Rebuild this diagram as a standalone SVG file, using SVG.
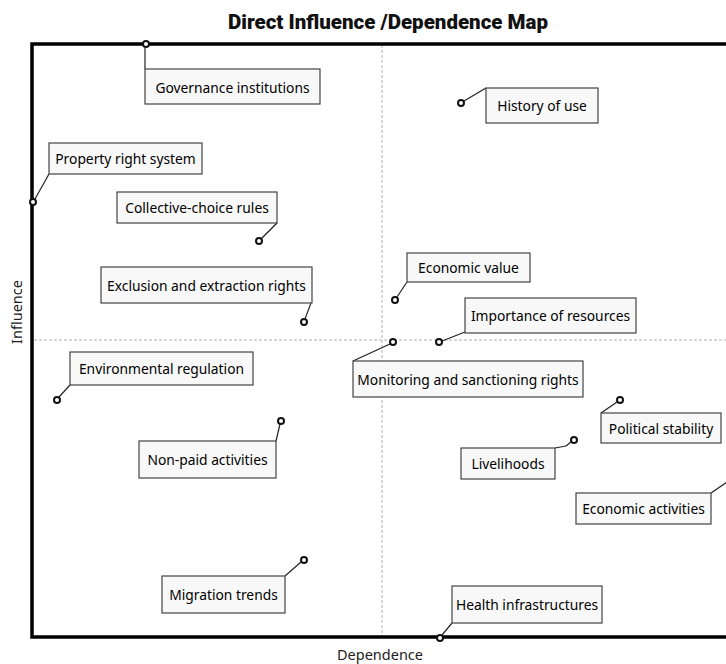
<svg xmlns="http://www.w3.org/2000/svg" width="726" height="664" viewBox="0 0 726 664">
<style>
.box{fill:#f8f8f8;stroke:#444;stroke-width:1.2}
.lbl{font-family:"Noto Sans","Liberation Sans",sans-serif;font-size:13.8px;fill:#000;text-anchor:middle;dominant-baseline:central}
.dot{fill:#fff;stroke:#111;stroke-width:2}
.con{stroke:#222;stroke-width:1.2;fill:none}
.axis{font-family:"Noto Sans","Liberation Sans",sans-serif;font-size:14.5px;fill:#222}
.grid{stroke:#b0b0b0;stroke-width:1;stroke-dasharray:3,2;fill:none}
</style>
<rect width="726" height="664" fill="#fff"/>
<text x="388" y="29" text-anchor="middle" font-family="Roboto,'Liberation Sans',sans-serif" font-weight="900" font-size="20.5" fill="#111">Direct Influence /Dependence Map</text>
<g id="frame">
<line class="grid" x1="382" y1="45" x2="382" y2="636"/>
<line class="grid" x1="34" y1="340" x2="726" y2="340"/>
<path d="M730,44 H32 V637 H730" fill="none" stroke="#000" stroke-width="3.5"/>
</g>
<text class="axis" x="380" y="660" text-anchor="middle">Dependence</text>
<text class="axis" transform="translate(22,312) rotate(-90)" text-anchor="middle">Influence</text>
<g id="connectors">
<line class="con" x1="145" y1="48" x2="145" y2="69"/>
<line class="con" x1="49" y1="174" x2="35" y2="199"/>
<line class="con" x1="277" y1="223" x2="261" y2="239"/>
<line class="con" x1="311" y1="303" x2="305" y2="319"/>
<line class="con" x1="486" y1="88" x2="464" y2="101"/>
<line class="con" x1="407" y1="282" x2="397" y2="297"/>
<line class="con" x1="465" y1="332" x2="442" y2="341"/>
<line class="con" x1="353" y1="361" x2="390" y2="344"/>
<line class="con" x1="70" y1="385" x2="59" y2="397"/>
<line class="con" x1="276" y1="441" x2="280" y2="424"/>
<line class="con" x1="285" y1="576" x2="301" y2="562"/>
<line class="con" x1="601" y1="413" x2="617" y2="402"/>
<line class="con" x1="555" y1="448" x2="566" y2="446"/>
<line class="con" x1="566" y1="446" x2="572" y2="441"/>
<line class="con" x1="711" y1="493" x2="730" y2="480"/>
<line class="con" x1="452" y1="623" x2="442" y2="635"/>
</g>
<g id="n-governance"><rect class="box" x="145" y="69" width="175" height="35"/><text class="lbl" x="232.5" y="87">Governance institutions</text><circle class="dot" cx="146" cy="44" r="3"/></g>
<g id="n-property"><rect class="box" x="49" y="143" width="153" height="31"/><text class="lbl" x="125.5" y="158.5">Property right system</text><circle class="dot" cx="33" cy="202" r="3"/></g>
<g id="n-collective"><rect class="box" x="117" y="192" width="160" height="31"/><text class="lbl" x="197" y="207.5">Collective-choice rules</text><circle class="dot" cx="259" cy="241" r="3"/></g>
<g id="n-exclusion"><rect class="box" x="101" y="267" width="211" height="36"/><text class="lbl" x="206.5" y="285">Exclusion and extraction rights</text><circle class="dot" cx="304" cy="322" r="3"/></g>
<g id="n-history"><rect class="box" x="486" y="88" width="112" height="35"/><text class="lbl" x="542" y="105.5">History of use</text><circle class="dot" cx="461" cy="103" r="3"/></g>
<g id="n-econvalue"><rect class="box" x="407" y="253" width="123" height="29"/><text class="lbl" x="468.5" y="267.5">Economic value</text><circle class="dot" cx="395" cy="300" r="3"/></g>
<g id="n-importance"><rect class="box" x="465" y="298" width="171" height="35"/><text class="lbl" x="550.5" y="315.5">Importance of resources</text><circle class="dot" cx="439" cy="342" r="3"/></g>
<g id="n-monitoring"><rect class="box" x="353" y="361" width="230" height="36"/><text class="lbl" x="468" y="379">Monitoring and sanctioning rights</text><circle class="dot" cx="393" cy="342" r="3"/></g>
<g id="n-environmental"><rect class="box" x="70" y="352" width="183" height="33"/><text class="lbl" x="161.5" y="368.5">Environmental regulation</text><circle class="dot" cx="57" cy="400" r="3"/></g>
<g id="n-nonpaid"><rect class="box" x="139" y="441" width="137" height="37"/><text class="lbl" x="207.5" y="459.5">Non-paid activities</text><circle class="dot" cx="281" cy="421" r="3"/></g>
<g id="n-migration"><rect class="box" x="162" y="576" width="123" height="37"/><text class="lbl" x="223.5" y="594.5">Migration trends</text><circle class="dot" cx="304" cy="560" r="3"/></g>
<g id="n-political"><rect class="box" x="601" y="413" width="120" height="30"/><text class="lbl" x="661" y="428">Political stability</text><circle class="dot" cx="620" cy="400" r="3"/></g>
<g id="n-livelihoods"><rect class="box" x="461" y="448" width="94" height="31"/><text class="lbl" x="508" y="463.5">Livelihoods</text><circle class="dot" cx="574" cy="440" r="3"/></g>
<g id="n-econactivities"><rect class="box" x="576" y="493" width="135" height="31"/><text class="lbl" x="643.5" y="508.5">Economic activities</text><circle class="dot" cx="732" cy="477" r="3"/></g>
<g id="n-health"><rect class="box" x="452" y="586" width="150" height="37"/><text class="lbl" x="527" y="604.5">Health infrastructures</text><circle class="dot" cx="440" cy="638" r="3"/></g>
</svg>
